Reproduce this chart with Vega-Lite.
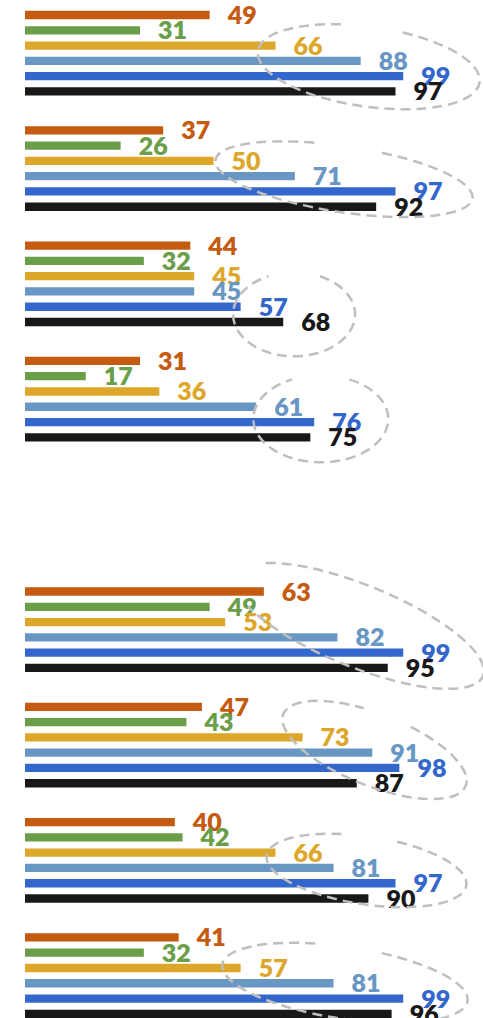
{
  "$schema": "https://vega.github.io/schema/vega-lite/v6.json",
  "width": 458,
  "height": 1018,
  "autosize": {"type": "none"},
  "padding": {"left": 25, "top": 0, "right": 0, "bottom": 0},
  "background": "white",
  "config": {"view": {"stroke": null}},
  "datasets": {
    "bars": [
      {"group": "1", "series": "S1", "value": 49}, {"group": "1", "series": "S2", "value": 31}, {"group": "1", "series": "S3", "value": 66},
      {"group": "1", "series": "S4", "value": 88}, {"group": "1", "series": "S5", "value": 99}, {"group": "1", "series": "S6", "value": 97},
      {"group": "2", "series": "S1", "value": 37}, {"group": "2", "series": "S2", "value": 26}, {"group": "2", "series": "S3", "value": 50},
      {"group": "2", "series": "S4", "value": 71}, {"group": "2", "series": "S5", "value": 97}, {"group": "2", "series": "S6", "value": 92},
      {"group": "3", "series": "S1", "value": 44}, {"group": "3", "series": "S2", "value": 32}, {"group": "3", "series": "S3", "value": 45},
      {"group": "3", "series": "S4", "value": 45}, {"group": "3", "series": "S5", "value": 57}, {"group": "3", "series": "S6", "value": 68},
      {"group": "4", "series": "S1", "value": 31}, {"group": "4", "series": "S2", "value": 17}, {"group": "4", "series": "S3", "value": 36},
      {"group": "4", "series": "S4", "value": 61}, {"group": "4", "series": "S5", "value": 76}, {"group": "4", "series": "S6", "value": 75},
      {"group": "6", "series": "S1", "value": 63}, {"group": "6", "series": "S2", "value": 49}, {"group": "6", "series": "S3", "value": 53},
      {"group": "6", "series": "S4", "value": 82}, {"group": "6", "series": "S5", "value": 99}, {"group": "6", "series": "S6", "value": 95},
      {"group": "7", "series": "S1", "value": 47}, {"group": "7", "series": "S2", "value": 43}, {"group": "7", "series": "S3", "value": 73},
      {"group": "7", "series": "S4", "value": 91}, {"group": "7", "series": "S5", "value": 98}, {"group": "7", "series": "S6", "value": 87},
      {"group": "8", "series": "S1", "value": 40}, {"group": "8", "series": "S2", "value": 42}, {"group": "8", "series": "S3", "value": 66},
      {"group": "8", "series": "S4", "value": 81}, {"group": "8", "series": "S5", "value": 97}, {"group": "8", "series": "S6", "value": 90},
      {"group": "9", "series": "S1", "value": 41}, {"group": "9", "series": "S2", "value": 32}, {"group": "9", "series": "S3", "value": 57},
      {"group": "9", "series": "S4", "value": 81}, {"group": "9", "series": "S5", "value": 99}, {"group": "9", "series": "S6", "value": 96}
    ],
    "rings": [
      {"id": 1, "group": "1", "series": "S4", "cx": 90.3},
      {"id": 2, "group": "2", "series": "S4", "cx": 83.8},
      {"id": 3, "group": "3", "series": "S5", "cx": 70.8},
      {"id": 4, "group": "4", "series": "S5", "cx": 77.7},
      {"id": 5, "group": "6", "series": "S3", "cx": 87.9},
      {"id": 6, "group": "7", "series": "S4", "cx": 91.3},
      {"id": 7, "group": "8", "series": "S4", "cx": 89.6},
      {"id": 8, "group": "9", "series": "S4", "cx": 83.9}
    ]
  },
  "encoding": {
    "y": {
      "field": "group", "type": "nominal", "axis": null,
      "scale": {"domain": ["1", "2", "3", "4", "5", "6", "7", "8", "9"], "range": [0, 1037.7], "paddingInner": 0, "paddingOuter": 0, "round": false}
    },
    "yOffset": {
      "field": "series", "type": "nominal",
      "scale": {"domain": ["S1", "S2", "S3", "S4", "S5", "S6"], "paddingInner": 0.456, "paddingOuter": 1.148, "align": 0.355, "round": false}
    }
  },
  "layer": [
    {
      "data": {"name": "bars"},
      "mark": {"type": "bar", "clip": true},
      "encoding": {
        "x": {"field": "value", "type": "quantitative", "axis": null, "scale": {"domain": [1.3, 119.6], "nice": false, "zero": false}},
        "color": {"field": "series", "type": "nominal", "legend": null,
          "scale": {"domain": ["S1", "S2", "S3", "S4", "S5", "S6"], "range": ["#C55A11", "#6A9E48", "#DDA72C", "#6897C3", "#3467CC", "#181818"]}}
      }
    },
    {
      "data": {"name": "bars"},
      "mark": {"type": "text", "align": "left", "baseline": "middle", "dx": 18, "dy": 1, "font": "Lato", "fontSize": 25, "fontWeight": 800},
      "encoding": {
        "x": {"field": "value", "type": "quantitative", "scale": {"domain": [1.3, 119.6], "nice": false, "zero": false}},
        "text": {"field": "value", "type": "quantitative"},
        "color": {"field": "series", "type": "nominal", "legend": null}
      }
    },
    {
      "data": {"name": "rings"}, "transform": [{"filter": "datum.id == 1"}],
      "mark": {"type": "point", "filled": false, "opacity": 1, "stroke": "#BFBFBF", "strokeWidth": 2.5, "strokeDash": [10, 6], "size": 40000, "angle": 8,
        "shape": "M0.2899,-0.3274 C0.7794,-0.2805 1.12,-0.122 1.12,0.059 C1.12,0.2799 0.6186,0.459 0,0.459 C-0.6186,0.459 -1.12,0.2799 -1.12,0.059 C-1.12,-0.122 -0.7794,-0.2805 -0.2899,-0.3274"},
      "encoding": {"x": {"field": "cx", "type": "quantitative", "scale": {"domain": [1.3, 119.6], "nice": false, "zero": false}}}
    },
    {
      "data": {"name": "rings"}, "transform": [{"filter": "datum.id == 2"}],
      "mark": {"type": "point", "filled": false, "opacity": 1, "stroke": "#BFBFBF", "strokeWidth": 2.5, "strokeDash": [10, 6], "size": 40000, "angle": 8.5,
        "shape": "M0.3364,-0.2877 C0.9047,-0.2491 1.3,-0.1183 1.3,0.031 C1.3,0.2133 0.718,0.361 0,0.361 C-0.718,0.361 -1.3,0.2133 -1.3,0.031 C-1.3,-0.1183 -0.9047,-0.2491 -0.3364,-0.2877"},
      "encoding": {"x": {"field": "cx", "type": "quantitative", "scale": {"domain": [1.3, 119.6], "nice": false, "zero": false}}}
    },
    {
      "data": {"name": "rings"}, "transform": [{"filter": "datum.id == 3"}],
      "mark": {"type": "point", "filled": false, "opacity": 1, "stroke": "#BFBFBF", "strokeWidth": 2.5, "strokeDash": [10, 6], "size": 40000, "angle": 0,
        "shape": "M0.2578,-0.3046 C0.4727,-0.2356 0.61,-0.0873 0.61,0.076 C0.61,0.308 0.3369,0.496 0,0.496 C-0.3369,0.496 -0.61,0.308 -0.61,0.076 C-0.61,-0.0873 -0.4727,-0.2356 -0.2578,-0.3046"},
      "encoding": {"x": {"field": "cx", "type": "quantitative", "scale": {"domain": [1.3, 119.6], "nice": false, "zero": false}}}
    },
    {
      "data": {"name": "rings"}, "transform": [{"filter": "datum.id == 4"}],
      "mark": {"type": "point", "filled": false, "opacity": 1, "stroke": "#BFBFBF", "strokeWidth": 2.5, "strokeDash": [10, 6], "size": 40000, "angle": 0,
        "shape": "M0.2853,-0.4262 C0.5231,-0.3548 0.675,-0.2011 0.675,-0.032 C0.675,0.2083 0.3728,0.403 0,0.403 C-0.3728,0.403 -0.675,0.2083 -0.675,-0.032 C-0.675,-0.2011 -0.5231,-0.3548 -0.2853,-0.4262"},
      "encoding": {"x": {"field": "cx", "type": "quantitative", "scale": {"domain": [1.3, 119.6], "nice": false, "zero": false}}}
    },
    {
      "data": {"name": "rings"}, "transform": [{"filter": "datum.id == 5"}],
      "mark": {"type": "point", "filled": false, "opacity": 1, "stroke": "#BFBFBF", "strokeWidth": 2.5, "strokeDash": [10, 6], "size": 40000, "angle": 22,
        "shape": "M-1.0977,-0.1942 C-0.847,-0.3037 -0.4371,-0.369 0,-0.369 C0.7401,-0.369 1.34,-0.1854 1.34,0.041 C1.34,0.2674 0.7401,0.451 0,0.451 C-0.4371,0.451 -0.847,0.3857 -1.0977,0.2762"},
      "encoding": {"x": {"field": "cx", "type": "quantitative", "scale": {"domain": [1.3, 119.6], "nice": false, "zero": false}}}
    },
    {
      "data": {"name": "rings"}, "transform": [{"filter": "datum.id == 6"}],
      "mark": {"type": "point", "filled": false, "opacity": 1, "stroke": "#BFBFBF", "strokeWidth": 2.5, "strokeDash": [10, 6], "size": 40000, "angle": 21.5,
        "shape": "M0.2536,-0.3767 C0.682,-0.3346 0.98,-0.1919 0.98,-0.029 C0.98,0.1698 0.5413,0.331 0,0.331 C-0.5413,0.331 -0.98,0.1698 -0.98,-0.029 C-0.98,-0.1919 -0.682,-0.3346 -0.2536,-0.3767"},
      "encoding": {"x": {"field": "cx", "type": "quantitative", "scale": {"domain": [1.3, 119.6], "nice": false, "zero": false}}}
    },
    {
      "data": {"name": "rings"}, "transform": [{"filter": "datum.id == 7"}],
      "mark": {"type": "point", "filled": false, "opacity": 1, "stroke": "#BFBFBF", "strokeWidth": 2.5, "strokeDash": [10, 6], "size": 40000, "angle": 8.5,
        "shape": "M0.2614,-0.3034 C0.7029,-0.2636 1.01,-0.1289 1.01,0.025 C1.01,0.2128 0.5578,0.365 0,0.365 C-0.5578,0.365 -1.01,0.2128 -1.01,0.025 C-1.01,-0.1289 -0.7029,-0.2636 -0.2614,-0.3034"},
      "encoding": {"x": {"field": "cx", "type": "quantitative", "scale": {"domain": [1.3, 119.6], "nice": false, "zero": false}}}
    },
    {
      "data": {"name": "rings"}, "transform": [{"filter": "datum.id == 8"}],
      "mark": {"type": "point", "filled": false, "opacity": 1, "stroke": "#BFBFBF", "strokeWidth": 2.5, "strokeDash": [10, 6], "size": 40000, "angle": 8.5,
        "shape": "M0.3209,-0.3527 C0.8629,-0.3106 1.24,-0.1679 1.24,-0.005 C1.24,0.1938 0.6849,0.355 0,0.355 C-0.6849,0.355 -1.24,0.1938 -1.24,-0.005 C-1.24,-0.1679 -0.8629,-0.3106 -0.3209,-0.3527"},
      "encoding": {"x": {"field": "cx", "type": "quantitative", "scale": {"domain": [1.3, 119.6], "nice": false, "zero": false}}}
    }
  ]
}
